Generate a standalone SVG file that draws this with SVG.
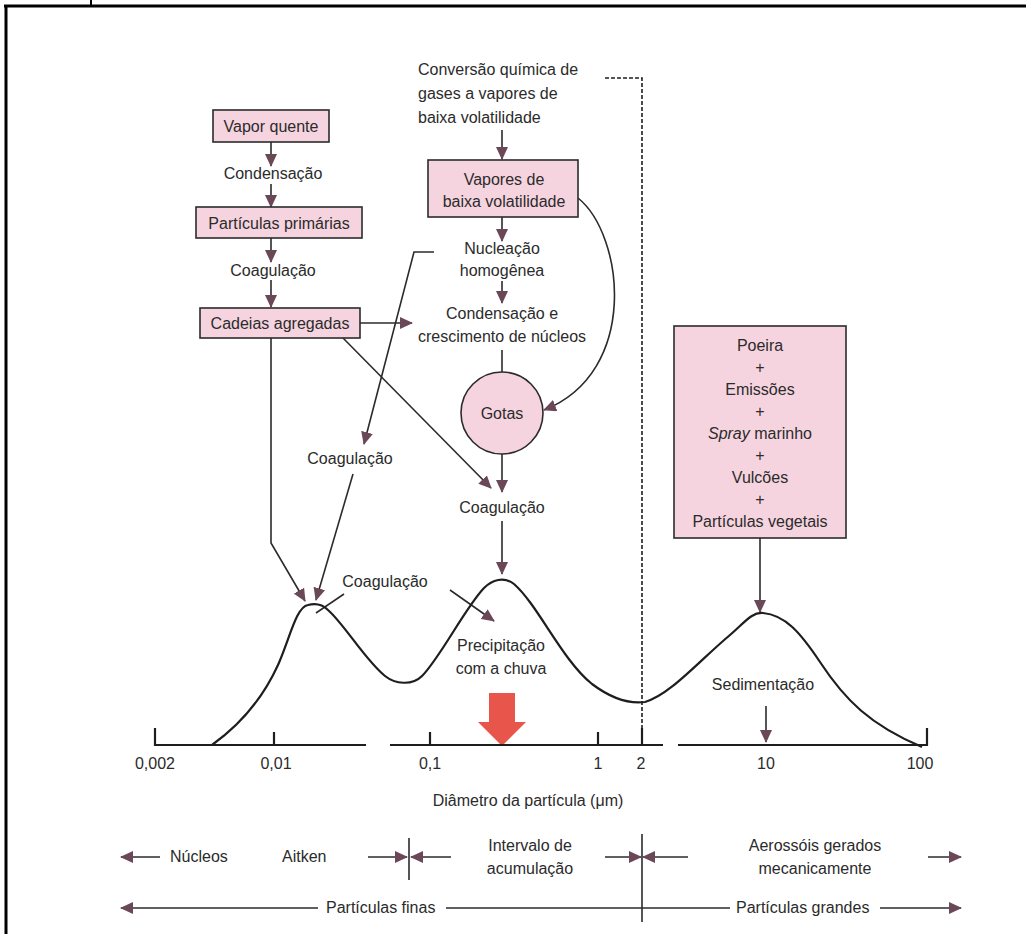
<svg xmlns="http://www.w3.org/2000/svg" width="1026" height="934" viewBox="0 0 1026 934">
<style>
.t{font-family:"Liberation Sans",Arial,sans-serif;font-size:16px;fill:#2b2b2b}
.m{text-anchor:middle}
.box{fill:#f6d4df;stroke:#2b2b2b;stroke-width:1.6}
.ln{fill:none;stroke:#2b2b2b;stroke-width:1.6}
.ax{fill:none;stroke:#1e1e1e;stroke-width:2.2}
.a{marker-end:url(#ah)}
.as{marker-start:url(#ah)}
</style>
<defs>
<marker id="ah" viewBox="0 0 13 12" refX="12" refY="6" markerWidth="13" markerHeight="12" markerUnits="userSpaceOnUse" orient="auto-start-reverse">
<path d="M0,0 L13,6 L0,12 Z" fill="#6b4858"/>
</marker>
</defs>
<rect width="1026" height="934" fill="#fff"/>
<g id="frame">
<path d="M4,6 H1026 M6,5 V934" fill="none" stroke="#000" stroke-width="3"/>
<path d="M91,0 V5" stroke="#000" stroke-width="2"/>
</g>
<g id="connectors">
<path class="ln a" d="M271,142 V166"/>
<path class="ln a" d="M271,184 V207"/>
<path class="ln a" d="M271,238 V262"/>
<path class="ln a" d="M271,280 V307"/>
<path class="ln a" d="M360,323 H412"/>
<path class="ln a" d="M271,338 V543 L305,601"/>
<path class="ln a" d="M343,338 L491,488"/>
<path class="ln a" d="M434,252 H414 L364,444"/>
<path class="ln a" d="M353,474 L316,600"/>
<path class="ln" d="M344,594 L316,613"/>
<path class="ln a" d="M450,590 L494,621"/>
<path class="ln a" d="M502,130 V159"/>
<path class="ln a" d="M502,217 V241"/>
<path class="ln a" d="M502,281 V303"/>
<path class="ln" d="M502,350 V372"/>
<path class="ln a" d="M578,198 C624,235 640,372 544,410"/>
<path class="ln a" d="M502,454 V492"/>
<path class="ln a" d="M502,521 V574"/>
<path class="ln a" d="M760,538 V612"/>
<path class="ln a" d="M766,706 V742"/>
<path d="M605,78 H642 V745" fill="none" stroke="#1e1e1e" stroke-width="1.6" stroke-dasharray="4,2"/>
<path d="M489,693 H515 V722 H526 L502,746 L478,722 H489 Z" fill="#e8564b"/>
</g>
<g id="curve">
<path class="ax" d="M212,745 C240,725 262,700 278,665 C290,638 296,607 308,605 C316,603 322,604 328,610 C345,625 365,660 385,676 C395,684 412,686 422,676 C440,658 465,608 484,588 C492,580 504,576 514,584 C538,605 562,660 592,684 C612,699 630,704 645,702 C670,695 700,660 730,635 C745,622 752,612 763,613 C785,615 800,632 820,662 C845,700 870,725 922,747"/>
</g>
<g id="axis">
<path class="ax" d="M155,728 V745 H366 M274,732 V745"/>
<path class="ax" d="M390,745 H663 M430,732 V745 M598,732 V745 M642,728 V745"/>
<path class="ax" d="M678,745 H927 V728"/>
<text class="t m" x="155" y="769">0,002</text>
<text class="t m" x="276" y="769">0,01</text>
<text class="t m" x="430" y="769">0,1</text>
<text class="t m" x="598" y="769">1</text>
<text class="t m" x="641" y="769">2</text>
<text class="t m" x="766" y="769">10</text>
<text class="t m" x="920" y="769">100</text>
<text class="t m" x="528" y="806">Diâmetro da partícula (μm)</text>
</g>
<g id="vapor-quente"><rect class="box" x="213" y="110" width="116" height="32"/><text class="t m" x="271" y="132">Vapor quente</text></g>
<g id="condensacao-1"><text class="t m" x="273" y="179">Condensação</text></g>
<g id="particulas-primarias"><rect class="box" x="196" y="207" width="166" height="31"/><text class="t m" x="279" y="229">Partículas primárias</text></g>
<g id="coagulacao-1"><text class="t m" x="273" y="276">Coagulação</text></g>
<g id="cadeias-agregadas"><rect class="box" x="200" y="308" width="160" height="30"/><text class="t m" x="280" y="329">Cadeias agregadas</text></g>
<g id="conversao"><text class="t" x="418" y="75">Conversão química de</text><text class="t" x="418" y="99">gases a vapores de</text><text class="t" x="418" y="123">baixa volatilidade</text></g>
<g id="vapores"><rect class="box" x="428" y="160" width="150" height="57"/><text class="t m" x="504" y="185">Vapores de</text><text class="t m" x="504" y="207">baixa volatilidade</text></g>
<g id="nucleacao"><text class="t m" x="502" y="254">Nucleação</text><text class="t m" x="502" y="276">homogênea</text></g>
<g id="condensacao-2"><text class="t m" x="502" y="319">Condensação e</text><text class="t m" x="502" y="342">crescimento de núcleos</text></g>
<g id="gotas"><circle cx="502" cy="413" r="41" class="box"/><text class="t m" x="502" y="419">Gotas</text></g>
<g id="coagulacao-2"><text class="t m" x="350" y="464">Coagulação</text></g>
<g id="coagulacao-3"><text class="t m" x="502" y="513">Coagulação</text></g>
<g id="coagulacao-4"><text class="t m" x="385" y="587">Coagulação</text></g>
<g id="precipitacao"><text class="t m" x="501" y="651">Precipitação</text><text class="t m" x="501" y="674">com a chuva</text></g>
<g id="sedimentacao"><text class="t m" x="763" y="690">Sedimentação</text></g>
<g id="fontes"><rect class="box" x="674" y="326" width="172" height="212"/>
<text class="t m" x="760" y="351">Poeira</text>
<text class="t m" x="760" y="373">+</text>
<text class="t m" x="760" y="395">Emissões</text>
<text class="t m" x="760" y="417">+</text>
<text class="t m" x="760" y="439"><tspan font-style="italic">Spray</tspan> marinho</text>
<text class="t m" x="760" y="461">+</text>
<text class="t m" x="760" y="483">Vulcões</text>
<text class="t m" x="760" y="505">+</text>
<text class="t m" x="760" y="527">Partículas vegetais</text>
</g>
<g id="legenda">
<path class="ln as" d="M121,857 H160"/>
<text class="t" x="170" y="862">Núcleos</text>
<text class="t" x="282" y="862">Aitken</text>
<path class="ln a" d="M368,857 H407"/>
<path class="ln" d="M409,838 V880"/>
<path class="ln as" d="M411,857 H451"/>
<text class="t m" x="530" y="851">Intervalo de</text>
<text class="t m" x="530" y="874">acumulação</text>
<path class="ln a" d="M605,857 H641"/>
<path class="ln" d="M642,834 V922"/>
<path class="ln as" d="M643,857 H688"/>
<text class="t m" x="815" y="851">Aerossóis gerados</text>
<text class="t m" x="815" y="874">mecanicamente</text>
<path class="ln a" d="M928,857 H961"/>
<path class="ln as" d="M121,908 H318"/>
<text class="t" x="326" y="913">Partículas finas</text>
<path class="ln" d="M446,908 H730"/>
<text class="t" x="736" y="913">Partículas grandes</text>
<path class="ln a" d="M880,908 H961"/>
</g>
</svg>
